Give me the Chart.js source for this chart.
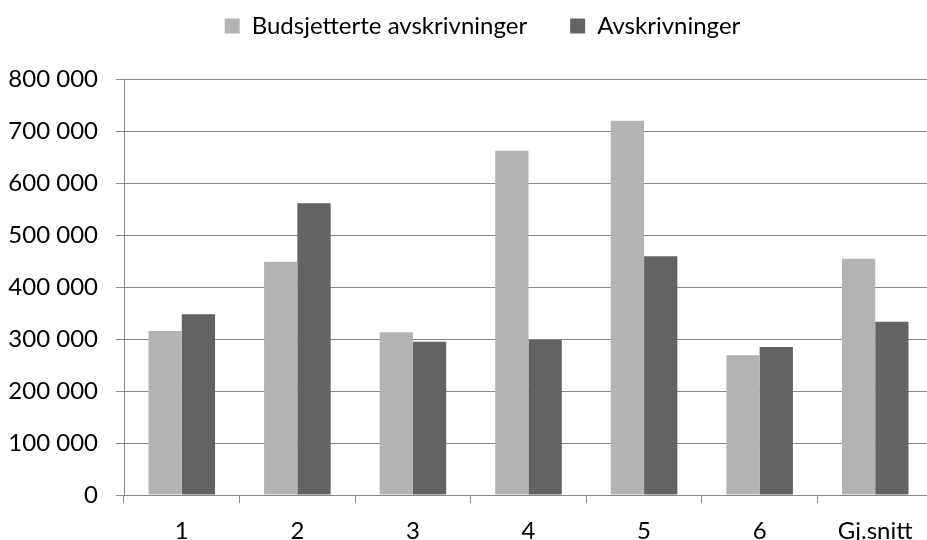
<!DOCTYPE html>
<html>
<head>
<meta charset="utf-8">
<script src="https://cdn.jsdelivr.net/npm/chart.js@4.4.1/dist/chart.umd.min.js"></script>
<style>
  html, body { margin: 0; padding: 0; background: #ffffff; overflow: hidden; width: 927px; height: 540px; }
  #wrap { width: 940px; height: 540px; }
</style>
</head>
<body>
<div id="wrap"><canvas id="c" width="940" height="540"></canvas></div>
<script>
const categories = ['1', '2', '3', '4', '5', '6', 'Gj.snitt'];
const seriesNames = ['Budsjetterte avskrivninger', 'Avskrivninger'];
const budsjetterte = [315400, 448700, 312900, 662100, 719800, 268600, 454400];
const avskrivninger = [347500, 561000, 294800, 298000, 459000, 284600, 333300];
const yTickLabels = ['0', '100 000', '200 000', '300 000', '400 000', '500 000', '600 000', '700 000', '800 000'];

const FONT = 'Lato';
const FSIZE = 24;
const LEGEND_PAD = 43;
const gridColor = '#888888';

const legendTweaks = {
  id: 'legendTweaks',
  beforeInit(chart) {
    const origFit = chart.legend.fit;
    chart.legend.fit = function () {
      origFit.bind(chart.legend)();
      this.height = 79;
    };
  },
  afterLayout(chart) {
    chart.legend.left = 32;
    chart.legend.top = 27 - FSIZE / 2 - LEGEND_PAD - 1;
  }
};

new Chart(document.getElementById('c'), {
  type: 'bar',
  data: {
    labels: categories,
    datasets: [
      { label: seriesNames[0], data: budsjetterte, backgroundColor: '#b3b3b3', borderWidth: 0 },
      { label: seriesNames[1], data: avskrivninger, backgroundColor: '#636363', borderWidth: 0 }
    ]
  },
  options: {
    responsive: false,
    animation: false,
    events: [],
    layout: { padding: { left: 0, right: 7, top: 0, bottom: 0 } },
    datasets: { bar: { categoryPercentage: 0.576, barPercentage: 1.0 } },
    plugins: {
      legend: {
        position: 'top',
        labels: {
          color: '#000000',
          font: { family: FONT, size: FSIZE },
          boxWidth: 15,
          boxHeight: 15,
          padding: LEGEND_PAD
        }
      },
      tooltip: { enabled: false }
    },
    scales: {
      x: {
        offset: true,
        afterFit(scale) { scale.height = 45; },
        grid: {
          offset: true,
          drawOnChartArea: false,
          drawTicks: true,
          tickLength: 8,
          color: gridColor,
          lineWidth: 1
        },
        border: { display: true, color: gridColor, width: 1 },
        ticks: {
          color: '#000000',
          font: { family: FONT, size: FSIZE },
          padding: 14,
          maxRotation: 0,
          autoSkip: false
        }
      },
      y: {
        min: 0,
        max: 800000,
        afterFit(scale) { scale.width = 124; },
        grid: {
          color: gridColor,
          lineWidth: 1,
          drawTicks: true,
          tickLength: 8
        },
        border: { display: true, color: gridColor, width: 1 },
        ticks: {
          stepSize: 100000,
          color: '#000000',
          font: { family: FONT, size: FSIZE },
          padding: 18,
          callback: (v, i) => yTickLabels[i]
        }
      }
    }
  },
  plugins: [legendTweaks]
});
</script>
</body>
</html>
